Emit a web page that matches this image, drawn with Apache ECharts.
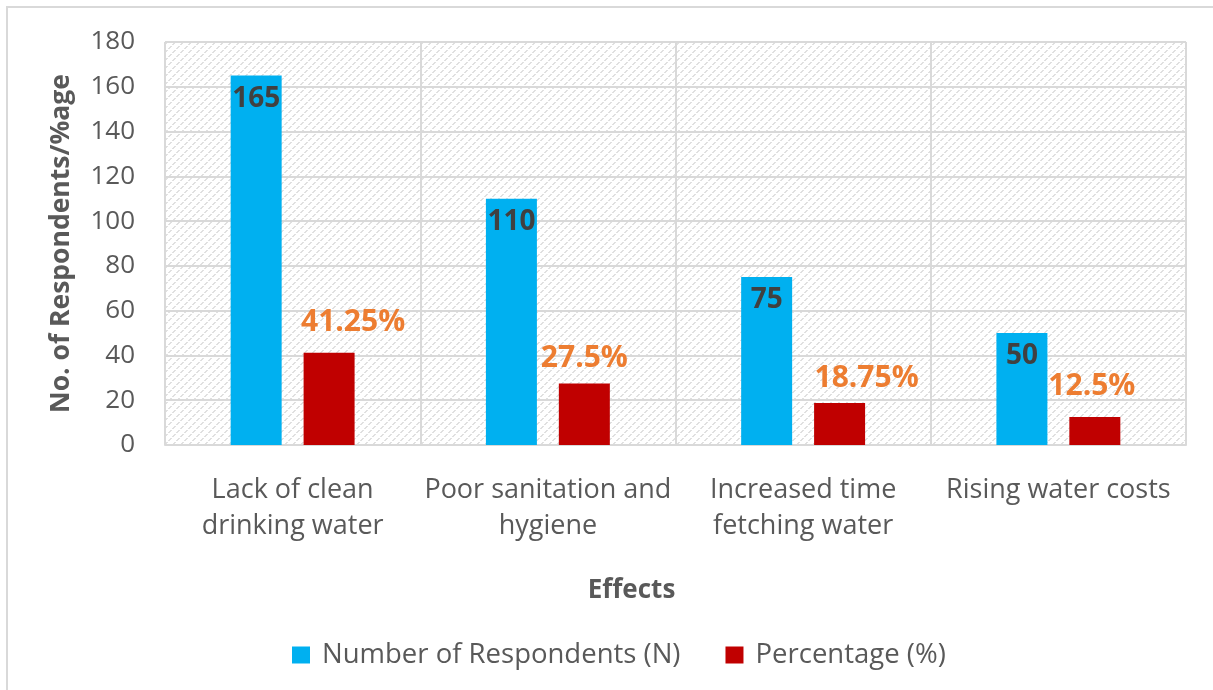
<!DOCTYPE html>
<html>
	<head>
		<meta charset="utf-8">
		<title></title>
		<script src="https://cdn.jsdelivr.net/npm/echarts@6/dist/echarts.min.js"></script>
		<style>
			body { margin: 0; background: #fff; }
		</style>
	</head>
	<body>
		<div id="main" style="width: 1213px;height:690px;"></div>
		<script>
			// data
			var categories = ['Lack of clean\ndrinking water', 'Poor sanitation and\nhygiene', 'Increased time\nfetching water', 'Rising water costs'];
			var respondents = [165, 110, 75, 50];
			var percentage = [41.25, 27.5, 18.75, 12.5];
			var yTicks = [0, 180, 20];
			// label shifts for the red bar labels [dx, dy]
			var pctShift = [[24, -5], [0, 0], [27, 0], [-3, -6]];

			// hatched grid background
			var pat = document.createElement('canvas');
			pat.width = 8;
			pat.height = 8;
			var ctx = pat.getContext('2d');
			ctx.fillStyle = '#ffffff';
			ctx.fillRect(0, 0, 8, 8);
			ctx.fillStyle = '#e0e0e0';
			for (var i = 0; i < 8; i++) {
				if (i % 4 == 3) continue;
				ctx.fillRect((i + 0) % 8, (8 - i) % 8, 1, 1);
				ctx.fillRect((i + 1) % 8, (8 - i) % 8, 1, 1);
			}

			var myChart = echarts.init(document.getElementById('main'));
			var option = {
				textStyle: { fontFamily: 'Open Sans' },
				graphic: [{
					type: 'rect',
					shape: { x: 7, y: 7, width: 1230, height: 700 },
					style: { fill: 'none', stroke: '#d9d9d9', lineWidth: 2 },
					silent: true
				}],
				grid: {
					left: 165,
					right: 27,
					top: 42,
					bottom: 245,
					show: true,
					backgroundColor: { image: pat, repeat: 'repeat' },
					borderWidth: 0
				},
				legend: {
					left: 287,
					top: 636,
					itemWidth: 18,
					itemHeight: 17,
					itemGap: 45,
					icon: 'rect',
					textStyle: { fontSize: 27.5, color: '#595959', padding: [0, 0, 0, 7] },
					data: ['Number of Respondents (N)', 'Percentage (%)']
				},
				xAxis: {
					type: 'category',
					data: categories,
					name: 'Effects',
					nameLocation: 'middle',
					nameGap: 133,
					nameTextStyle: { fontSize: 26, fontWeight: 'bold', color: '#595959', padding: [0, 88, 0, 0] },
					axisLine: { lineStyle: { color: '#d9d9d9', width: 2 } },
					axisTick: { show: false },
					splitLine: { show: true, lineStyle: { color: '#d9d9d9', width: 2 } },
					axisLabel: { fontSize: 27, color: '#595959', margin: 27, lineHeight: 36, interval: 0 }
				},
				yAxis: {
					type: 'value',
					min: yTicks[0],
					max: yTicks[1],
					interval: yTicks[2],
					name: 'No. of Respondents/%age',
					nameLocation: 'middle',
					nameGap: 90,
					nameTextStyle: { fontSize: 26.5, fontWeight: 'bold', color: '#595959' },
					axisLine: { show: false },
					axisTick: { show: false },
					splitLine: { lineStyle: { color: '#d9d9d9', width: 2 } },
					axisLabel: { fontSize: 26, color: '#595959', margin: 30 }
				},
				series: [{
						name: 'Number of Respondents (N)',
						type: 'bar',
						data: respondents,
						barWidth: 51,
						barGap: '43%',
						itemStyle: { color: '#00B0F0' },
						label: {
							show: true,
							position: 'insideTop',
							distance: 9,
							fontSize: 28,
							fontWeight: 'bold',
							color: '#404040'
						}
					},
					{
						name: 'Percentage (%)',
						type: 'bar',
						data: percentage.map(function(v, i) {
							return { value: v, label: { offset: pctShift[i] } };
						}),
						barWidth: 51,
						itemStyle: { color: '#C00000' },
						label: {
							show: true,
							position: 'top',
							distance: 10,
							fontSize: 30,
							fontWeight: 'bold',
							color: '#ED7D31',
							formatter: '{c}%'
						}
					}
				]
			};
			myChart.setOption(option);
		</script>
	</body>
</html>
